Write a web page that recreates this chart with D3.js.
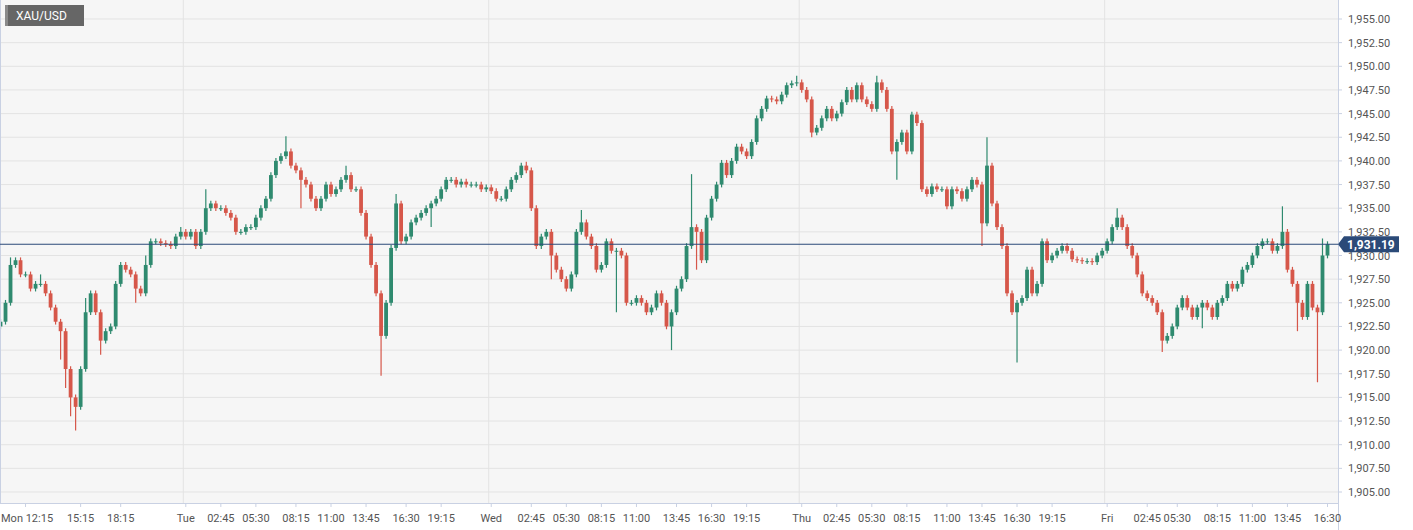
<!DOCTYPE html><html><head><meta charset="utf-8">
<script src="https://cdnjs.cloudflare.com/ajax/libs/d3/7.8.5/d3.min.js"></script>
<style>body{margin:0;background:#fff;font-family:Roboto,"Noto Sans",Arial,sans-serif}</style></head><body>
<svg id="c" width="1413" height="530"></svg>
<script>
const closes=[1923,1925,1929,1929.5,1928,1928,1926.5,1927,1927,1926,1924.5,1923,1922,1918,1915,1914,1918,1924,1926,1924,1921,1922,1922.5,1927,1929,1928.5,1928,1926.5,1926,1929,1931.5,1931.5,1931.3,1931.2,1931,1932,1932.5,1932,1932.5,1931,1932.5,1935,1935.5,1935,1935,1934.5,1934,1932.5,1932.5,1933,1933,1934,1935,1936,1938.5,1940,1940.5,1941,1939.5,1939,1938,1937.5,1936,1935,1936,1937.5,1936.5,1937,1938,1938.5,1937,1937,1934.5,1932,1929,1926,1921.5,1925,1930.8,1935.5,1931.5,1932,1933.5,1934,1934.5,1935,1935.5,1936,1937,1938,1938,1937.5,1937.8,1937.5,1937.5,1937.5,1937,1937.2,1936.8,1936,1936,1937,1938,1938.5,1939.5,1939,1935,1931,1932,1932.5,1930,1928.5,1927.5,1926.5,1928,1932.5,1933.5,1932,1931,1928.5,1929,1931.5,1930.5,1930.5,1930,1925,1925,1925.5,1925,1924,1924.5,1926,1925,1922.5,1924,1926.5,1927.5,1931,1933,1932.5,1929.5,1934,1936,1937.5,1939.8,1938.5,1940,1941.5,1941,1940.5,1942,1944.5,1945.5,1946.6,1946.5,1946.3,1947,1948,1948.2,1948.3,1947.5,1946.5,1943,1943.5,1944.5,1945.5,1944.5,1945,1946.2,1947.5,1946.5,1948,1946.5,1946,1945.5,1948.3,1947.5,1945.5,1941,1942,1943,1941,1944.9,1944,1937,1936.5,1937.3,1937,1937,1935.2,1937,1936.8,1936,1937,1938,1937.5,1933.4,1939.5,1935.5,1933,1931,1926,1924,1925,1925.5,1928.5,1926,1927,1931.5,1929.5,1930,1930.5,1931,1930.5,1929.6,1929.5,1929.4,1929.4,1929.3,1930,1930.5,1931.5,1933,1934,1933,1931,1930,1928,1926,1925.5,1925,1924,1921,1921.5,1922.5,1924.5,1925.5,1924.5,1923.5,1924.5,1925,1924.5,1923.5,1925,1925.5,1927,1926.5,1927,1928.5,1929,1930,1931,1931.5,1931.5,1930.5,1931,1932.5,1928.5,1927,1925,1923.5,1927,1924.5,1924,1930,1931.2];
const firstOpen=1922.5;
// notable wick extremes by candle index
const highs={2:1929.8,8:1928,17:1925.5,29:1930,36:1933,41:1937,57:1942.6,69:1939.5,79:1936.5,105:1939.9,116:1934.8,138:1938.6,148:1941.8,159:1949,175:1949,182:1945.2,197:1942.5,223:1935,256:1935.2,264:1931.8};
const lows={12:1919,13:1916,15:1911.5,14:1913,20:1919.5,27:1925,60:1935,76:1917.3,86:1933,110:1927.5,123:1924,134:1920,139:1928.5,162:1942.5,179:1938,196:1931,203:1918.7,232:1919.8,259:1922,263:1916.6,240:1922.3};
const tickIdx=[5,16,24,37,44,51,59,66,73,81,88,98,106,113,120,127,135,142,149,160,167,174,181,189,196,203,210,221,229,235,243,250,257,265];
const tickLab=["Mon 12:15","15:15","18:15","Tue","02:45","05:30","08:15","11:00","13:45","16:30","19:15","Wed","02:45","05:30","08:15","11:00","13:45","16:30","19:15","Thu","02:45","05:30","08:15","11:00","13:45","16:30","19:15","Fri","02:45","05:30","08:15","11:00","13:45","16:30"];
const dayLines=[37,98,160,221];
const yTicks=d3.range(1905,1955.01,2.5);
const lastPrice=1931.19;

const svg=d3.select("#c");
const W=1338,B=503;
svg.append("rect").attr("x",0).attr("y",0).attr("width",W).attr("height",B).attr("fill","#f6f6f6");
const x=d3.scaleLinear().domain([-0.5,closes.length-0.5]).range([-2,1330]);
const y=d3.scaleLinear().domain([1905,1955]).range([492,19]);
const step=x(1)-x(0);
svg.append("g").selectAll("line").data(yTicks).join("line").attr("x1",0).attr("x2",W).attr("y1",d=>y(d)).attr("y2",d=>y(d)).attr("stroke","#e3e3e3");
svg.append("g").selectAll("line").data(dayLines).join("line").attr("x1",d=>x(d)-step/2).attr("x2",d=>x(d)-step/2).attr("y1",0).attr("y2",B).attr("stroke","#e3e3e3");
const data=closes.map((c,i)=>{const o=i?closes[i-1]:firstOpen;return{i,o,c,h:highs[i]??Math.max(o,c)+0.3,l:lows[i]??Math.min(o,c)-0.3};});
const g=svg.append("g");
g.selectAll("line").data(data).join("line").attr("x1",d=>x(d.i)).attr("x2",d=>x(d.i)).attr("y1",d=>y(d.h)).attr("y2",d=>y(d.l)).attr("stroke",d=>d.c>=d.o?"#2f8a6f":"#d6574a").attr("stroke-width",1.2);
g.selectAll("rect").data(data).join("rect").attr("x",d=>x(d.i)-step*0.38).attr("width",step*0.76).attr("y",d=>y(Math.max(d.o,d.c))).attr("height",d=>Math.max(1,Math.abs(y(d.o)-y(d.c)))).attr("fill",d=>d.c>=d.o?"#2f8a6f":"#d6574a");
// axes
svg.append("line").attr("x1",W+0.5).attr("x2",W+0.5).attr("y1",0).attr("y2",530).attr("stroke","#c9d1e3");
svg.append("line").attr("x1",0).attr("x2",W).attr("y1",B+0.5).attr("y2",B+0.5).attr("stroke","#c9d1e3");
svg.append("line").attr("x1",0.5).attr("x2",0.5).attr("y1",0).attr("y2",B).attr("stroke","#c9d1e3");
const fmt=d3.format(",.2f");
const ya=svg.append("g");
ya.selectAll("line").data(yTicks).join("line").attr("x1",W).attr("x2",W+4).attr("y1",d=>y(d)).attr("y2",d=>y(d)).attr("stroke","#c9d1e3");
ya.selectAll("text").data(yTicks).join("text").attr("x",W+10).attr("y",d=>y(d)+4).text(d=>fmt(d)).attr("font-size",11).attr("fill","#555");
const xa=svg.append("g");
xa.selectAll("line").data(tickIdx).join("line").attr("x1",d=>x(d)).attr("x2",d=>x(d)).attr("y1",B).attr("y2",B+4).attr("stroke","#c9d1e3");
xa.selectAll("text").data(tickIdx).join("text").attr("x",(d,i)=>i?x(d):1).attr("text-anchor",(d,i)=>i?"middle":"start").attr("y",522).text((d,i)=>tickLab[i]).attr("font-size",11).attr("fill","#555");
// last price
svg.append("line").attr("x1",0).attr("x2",W).attr("y1",y(lastPrice)).attr("y2",y(lastPrice)).attr("stroke","#2b4a78").attr("stroke-width",1.2);
svg.append("path").attr("d",`M${W},${y(lastPrice)} l6,-8 h55 v16 h-55 z`).attr("fill","#2b4a78");
svg.append("text").attr("x",W+9).attr("y",y(lastPrice)+4.5).text(fmt(lastPrice)).attr("font-size",12).attr("font-weight","bold").attr("fill","#fff");
// title box
svg.append("rect").attr("x",5).attr("y",5).attr("width",79).attr("height",21).attr("fill","#666");
svg.append("rect").attr("x",5).attr("y",5).attr("width",3).attr("height",21).attr("fill","#8a8a8a");
svg.append("text").attr("x",16).attr("y",20).text("XAU/USD").attr("font-size",12).attr("fill","#fff");
</script></body></html>
